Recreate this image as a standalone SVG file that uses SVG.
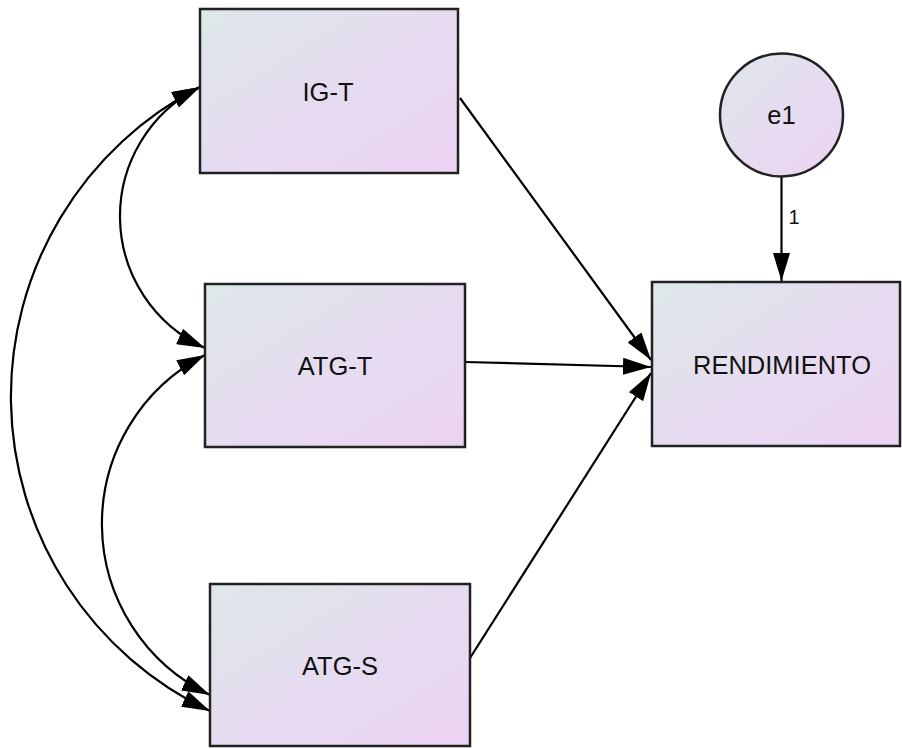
<svg xmlns="http://www.w3.org/2000/svg" width="902" height="749" viewBox="0 0 902 749">
  <defs>
    <linearGradient id="fill" x1="0" y1="0" x2="1" y2="1">
      <stop offset="0" stop-color="#dde8e8"/>
      <stop offset="0.5" stop-color="#e6dcf0"/>
      <stop offset="1" stop-color="#ecd3f3"/>
    </linearGradient>
    <marker id="head" viewBox="0 0 28 17" refX="28" refY="8.5" markerWidth="28" markerHeight="17" markerUnits="userSpaceOnUse" orient="auto-start-reverse">
      <path d="M0,0 L28,8.5 L0,17 Z" fill="#000"/>
    </marker>
    <style>
      .box { fill: url(#fill); stroke: #222; stroke-width: 2.5; }
      .lbl { font-family: "Liberation Sans", Arial, sans-serif; font-size: 25.5px; fill: #111; text-anchor: middle; dominant-baseline: central; }
      .path { fill: none; stroke: #000; stroke-width: 2.2; }
      .one { marker-end: url(#head); }
      .two { marker-start: url(#head); marker-end: url(#head); }
    </style>
  </defs>

  <!-- paths and covariances -->
  <g id="connectors">
    <path class="path one" d="M460,98 L651,360"/>
    <path class="path one" d="M465,362 L651,367"/>
    <path class="path one" d="M470,658 L651,373"/>
    <path class="path one" d="M781.5,177 L781.5,281"/>
    <path class="path two" d="M200,87 A144.5,144.5 0 0 0 205,348"/>
    <path class="path two" d="M205,355 A189.7,189.7 0 0 0 210,695"/>
    <path class="path two" d="M200,87 A347.9,347.9 0 0 0 210,711"/>
    <text x="788.5" y="223.5" font-family="Liberation Sans, Arial, sans-serif" font-size="20" fill="#111">1</text>
  </g>

  <g id="IG-T">
    <rect class="box" x="200" y="9" width="258" height="164"/>
    <text class="lbl" x="328" y="92">IG-T</text>
  </g>

  <g id="ATG-T">
    <rect class="box" x="205" y="284" width="260" height="163"/>
    <text class="lbl" x="335" y="366">ATG-T</text>
  </g>

  <g id="ATG-S">
    <rect class="box" x="210" y="584" width="260" height="162"/>
    <text class="lbl" x="340" y="666">ATG-S</text>
  </g>

  <g id="RENDIMIENTO">
    <rect class="box" x="652" y="282" width="248" height="164"/>
    <text class="lbl" x="782" y="365">RENDIMIENTO</text>
  </g>

  <g id="e1">
    <circle class="box" cx="781.5" cy="115" r="61.5"/>
    <text class="lbl" x="781.5" y="115">e1</text>
  </g>
</svg>
